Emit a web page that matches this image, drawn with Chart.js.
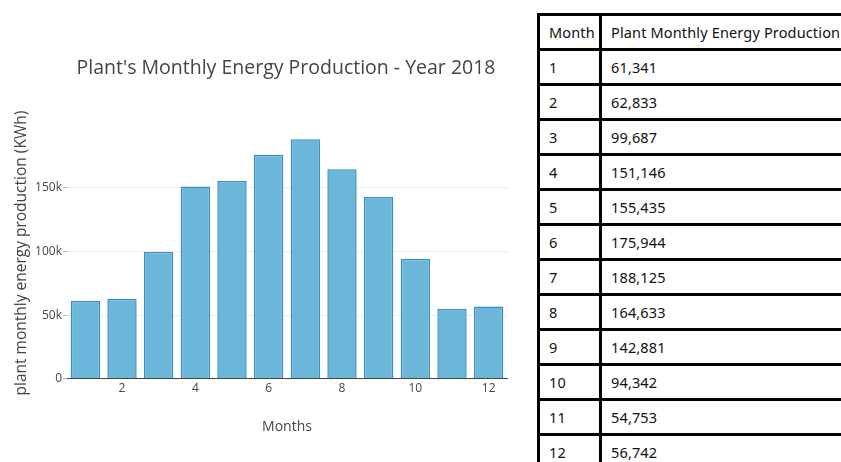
<!DOCTYPE html>
<html>
<head>
<meta charset="utf-8">
<script src="https://cdn.jsdelivr.net/npm/chart.js@4"></script>
<style>
  html,body{margin:0;padding:0;background:#fff;overflow:hidden;width:841px;height:462px;}
  #wrap{position:absolute;left:0;top:0;width:572px;height:462px;}
  #tbl{position:absolute;left:537px;top:13px;z-index:2;background:#fff;border-collapse:collapse;table-layout:fixed;width:420px;
       font-family:"Noto Sans",sans-serif;font-size:14.5px;letter-spacing:0.15px;color:#111;}
  #tbl td,#tbl th{border:3px solid #000;height:32px;padding:0 0 0 9px;text-align:left;font-weight:normal;white-space:nowrap;overflow:hidden;}
  #tbl col.c1{width:62px;}
</style>
</head>
<body>
<div id="wrap"><canvas id="chart" width="572" height="462"></canvas></div>
<table id="tbl"><colgroup><col class="c1"><col></colgroup>
<thead><tr><th>Month</th><th>Plant Monthly Energy Production</th></tr></thead><tbody id="tbody"></tbody></table>
<script>
const months = [1, 2, 3, 4, 5, 6, 7, 8, 9, 10, 11, 12];
const production = [61341, 62833, 99687, 151146, 155435, 175944, 188125, 164633, 142881, 94342, 54753, 56742];
const yTicks = [0, 50000, 100000, 150000];

const $ = (q)=>document.querySelector(q);

function fillTable(){
  const tb = $('#tbody');
  months.forEach((m,i)=>{
    const tr = document.createElement('tr');
    const a = document.createElement('td'); a.textContent = m;
    const b = document.createElement('td'); b.textContent = production[i].toLocaleString('en-US');
    tr.appendChild(a); tr.appendChild(b); tb.appendChild(tr);
  });
}

function initChart(){
  Chart.defaults.font.family = "'Open Sans', sans-serif";
  Chart.defaults.color = '#444';
  new Chart($('#chart'), {
    type: 'bar',
    data: {
      labels: months.map(String),
      datasets: [{
        data: production,
        backgroundColor: '#6cb6da',
        borderColor: '#3a8fc0',
        borderWidth: 1.5,
        barPercentage: 0.8,
        categoryPercentage: 1.0
      }]
    },
    options: {
      responsive: false,
      animation: false,
      layout: {padding: {left: 0, right: 0, top: 0, bottom: 27}},
      plugins: {
        legend: {display: false},
        tooltip: {enabled: false},
        title: {display: true, text: "Plant's Monthly Energy Production - Year 2018",
                font: {size: 19.5, weight: 'normal'}, color: '#444', padding: {top: 57, bottom: 47}}
      },
      scales: {
        x: {
          grid: {display: false, drawTicks: false},
          border: {display: true, color: '#444', width: 1},
          ticks: {autoSkip: false, maxRotation: 0, padding: 3, font: {size: 12},
                  callback: (v, i)=> (months[i] % 2 === 0 ? String(months[i]) : '')},
          title: {display: true, text: 'Months', font: {size: 14}, color: '#444', padding: {top: 19, bottom: 0}}
        },
        y: {
          min: 0, max: 197500,
          afterBuildTicks: (s)=>{ s.ticks = yTicks.map(v=>({value: v})); },
          afterFit: (s)=>{ s.width = 67; },
          grid: {color: '#eee', tickColor: '#bbb', tickLength: 4},
          border: {display: false},
          ticks: {padding: 1, font: {size: 12},
                  callback: (v)=> v === 0 ? '0' : (v/1000) + 'k'},
          title: {display: true, text: 'plant monthly energy production (KWh)', font: {size: 15.5}, color: '#444', padding: {top: 12, bottom: 0}}
        },
        y2: {
          position: 'right', display: true,
          grid: {display: false, drawOnChartArea: false, drawTicks: false},
          border: {display: false},
          ticks: {display: false},
          afterFit: (s)=>{ s.width = 65; }
        }
      }
    }
  });
}

window.addEventListener('DOMContentLoaded', ()=>{ fillTable(); initChart(); });
</script>
</body>
</html>
